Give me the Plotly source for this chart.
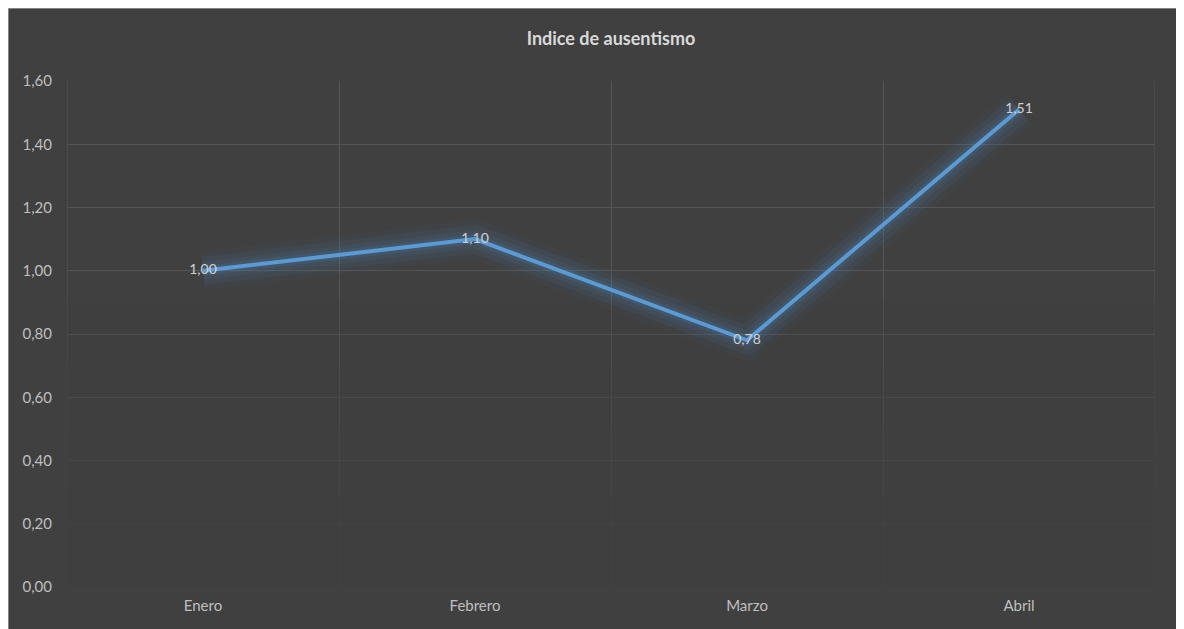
import plotly.graph_objects as go

# Datos del grafico
meses = ["Enero", "Febrero", "Marzo", "Abril"]
indice = [1.00, 1.10, 0.78, 1.51]
y_ticks = [0.0, 0.2, 0.4, 0.6, 0.8, 1.0, 1.2, 1.4, 1.6]

# the page puts the figure 8px in from the top-left corner
OFF = 8
W, H = 1176, 621
ML, MR, MT, MB = 67 - OFF, 29, 81 - OFF, 42
pw, ph = W - ML - MR, H - MT - MB

def px_x(p):
    return (p - OFF - ML) / pw

def px_y(p):
    return 1 - (p - OFF - MT) / ph

bg = "#404040"
line_col = "#5B9BD5"
grid_col = "#555555"

fig = go.Figure()

# glow behind the line
for w, a in [(38, 0.05), (28, 0.07), (18, 0.10), (10, 0.14)]:
    fig.add_trace(go.Scatter(
        x=meses, y=indice, mode="lines",
        line=dict(color=f"rgba(80,140,200,{a})", width=w),
        hoverinfo="skip", showlegend=False,
    ))

fig.add_trace(go.Scatter(
    x=meses, y=indice, mode="lines+text",
    line=dict(color=line_col, width=4),
    text=[f"{v:.2f}".replace(".", ",") for v in indice],
    textposition="middle center",
    textfont=dict(color="#D0D0D0", size=14, family="Lato"),
    showlegend=False,
))

shapes = [
    # dark chart area with a thin light frame
    dict(type="rect", xref="paper", yref="paper",
         x0=px_x(OFF), x1=px_x(1183), y0=px_y(OFF), y1=px_y(640),
         fillcolor=bg, line=dict(color="#C8C8C8", width=1), layer="below"),
]
# outer vertical gridlines at the plot edges
for xe in [-0.5, 3.5]:
    shapes.append(dict(type="line", xref="x", yref="y",
                       x0=xe, x1=xe, y0=0, y1=y_ticks[-1],
                       line=dict(color=grid_col, width=1), layer="between"))
# fade gridlines toward the bottom
for top in [0.9, 0.7, 0.5, 0.3]:
    shapes.append(dict(type="rect", xref="x", yref="y",
                       x0=-0.51, x1=3.51, y0=-0.01, y1=top,
                       fillcolor="rgba(64,64,64,0.3)", line=dict(width=0),
                       layer="between"))

fig.update_layout(
    width=W, height=H,
    margin=dict(l=ML, r=MR, t=MT, b=MB),
    paper_bgcolor="white",
    plot_bgcolor="rgba(0,0,0,0)",
    separators=",.",
    font=dict(family="Lato", color="#BFBFBF", size=15),
    title=dict(text="<b>Indice de ausentismo</b>", x=0.5, xref="paper",
               y=px_y(39) * ph / H + MB / H, yanchor="middle",
               font=dict(size=18, color="#D9D9D9", family="Lato")),
    shapes=shapes,
    xaxis=dict(
        range=[-0.5, 3.5], tickson="boundaries", showgrid=True,
        gridcolor=grid_col, gridwidth=1, ticks="", zeroline=False,
        showline=False, ticklabelstandoff=8,
        tickfont=dict(color="#BFBFBF", size=15),
    ),
    yaxis=dict(
        range=[0, 1.6], tickvals=y_ticks, tickformat=".2f",
        showgrid=True, gridcolor=grid_col, gridwidth=1,
        zeroline=False, showline=False, ticks="", ticklabelstandoff=14,
        tickfont=dict(color="#BFBFBF", size=15),
    ),
)

fig.write_html("out.html")
